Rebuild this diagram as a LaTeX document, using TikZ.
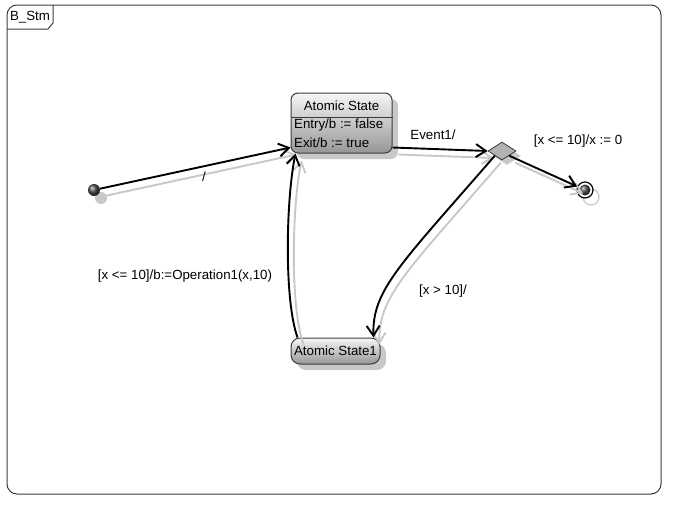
\documentclass[tikz,border=0pt]{standalone}
\usepackage{fontspec}
\setmainfont{Liberation Sans}
\usetikzlibrary{calc,arrows.meta,shapes.geometric,shadows}
\definecolor{stmFrame}{RGB}{60,60,60}
\definecolor{stmShadow}{RGB}{200,200,200}
\definecolor{stmTop}{RGB}{246,246,246}
\definecolor{stmBottom}{RGB}{150,150,150}
\definecolor{stmDiamond}{RGB}{178,178,178}

\tikzset{
  statebox/.style={draw=stmFrame, line width=1pt, top color=stmTop, bottom color=stmBottom,
    drop shadow={shadow xshift=6pt, shadow yshift=-6pt, fill=stmShadow, opacity=1}},
  trans/.style={line width=1.9pt, -{Straight Barb[length=10pt,width=13pt]}},
  transshadow/.style={trans, draw=stmShadow, transform canvas={xshift=6pt,yshift=-7pt}},
  lbl/.style={font=\fontsize{13.3}{15}\selectfont, inner sep=0pt},
}

\begin{document}
\begin{tikzpicture}[x=1pt,y=-1pt]
\useasboundingbox (0,0) rectangle (675,509);

% =========================
% frame
% =========================
\draw[stmFrame, line width=1pt, rounded corners=10pt] (7,5) rectangle (661,494);
\draw[stmFrame, line width=1pt] (7,29) -- (48,29) -- (53,23) -- (53,5);
\node[lbl] (title) at (30,17) {B\_Stm};

% =========================
% states
% =========================
\node[statebox, rounded corners=7pt, minimum width=101pt, minimum height=60pt] (st) at (341.5,123) {};
\draw[stmFrame, line width=0.8pt] ($(st.north west)!0.4!(st.south west)$) -- ($(st.north east)!0.4!(st.south east)$);
\node[lbl] (stName) at (341.5,106) {Atomic State};
\node[lbl, anchor=west] (stEntry) at (294,125) {Entry/b := false};
\node[lbl, anchor=west] (stExit) at (294,143) {Exit/b := true};

\node[statebox, rounded corners=9pt, minimum width=89pt, minimum height=26pt, lbl] (st1) at (335.5,351) {Atomic State1};

% pseudo states
\fill[stmShadow] (101,198) circle (6pt);
\node[circle, inner sep=0pt, minimum size=12pt, ball color=gray!60!black] (init) at (94,190) {};

\node[diamond, draw=stmFrame, fill=stmDiamond, line width=0.8pt, minimum width=28pt, minimum height=18pt,
  inner sep=0pt, drop shadow={shadow xshift=5pt, shadow yshift=-5pt, fill=stmShadow, opacity=1}] (dec) at (502,151) {};

\draw[stmShadow, line width=1.2pt] (591,197) circle (8pt);
\node[circle, draw=black, line width=1.2pt, minimum size=16pt, inner sep=0pt, fill=white] (fin) at (585,190) {};
\shade[ball color=gray!60!black] (fin.center) circle (5.5pt);

% =========================
% transitions
% =========================
\draw[transshadow] (init) -- ($(st.south west)+(0,-6)$);
\draw[transshadow] ($(st.south east)+(0,-6)$) -- (dec.west);
\draw[transshadow] (dec.south east) -- (fin);
\draw[transshadow] (dec.south west) .. controls (400,265) and (372,290) .. ($(st1.north east)+(-7,0)$);
\draw[transshadow] ($(st1.north west)+(7,0)$) .. controls (284,300) and (286,200) .. ($(st.south west)+(5,0)$);

\draw[trans] (init) -- ($(st.south west)+(0,-6)$);
\draw[trans] ($(st.south east)+(0,-6)$) -- (dec.west);
\draw[trans] (dec.south east) -- (fin);
\draw[trans] (dec.south west) .. controls (400,265) and (372,290) .. ($(st1.north east)+(-7,0)$);
\draw[trans] ($(st1.north west)+(7,0)$) .. controls (284,300) and (286,200) .. ($(st.south west)+(5,0)$);

\node[lbl] (tInit) at (204,177) {/};
\node[lbl] (tEvent) at (433,135) {Event1/};
\node[lbl] (tFinal) at (578,141) {[x <= 10]/x := 0};
\node[lbl] (tElse) at (443,291) {[x > 10]/};
\node[lbl] (tBack) at (185,276) {[x <= 10]/b:=Operation1(x,10)};

\end{tikzpicture}
\end{document}
